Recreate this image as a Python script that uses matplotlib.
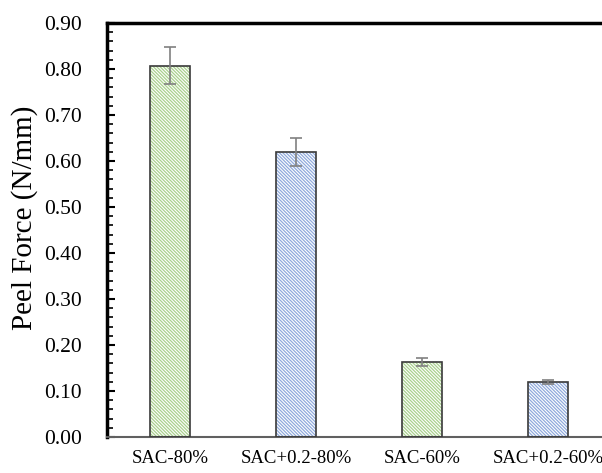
import matplotlib.pyplot as plt
import numpy as np

plt.rcParams['font.family'] = ['Liberation Serif', 'DejaVu Serif']
plt.rcParams['hatch.linewidth'] = 0.9

labels = ['SAC-80%', 'SAC+0.2-80%', 'SAC-60%', 'SAC+0.2-60%']
peel = [0.807, 0.620, 0.163, 0.120]
err = [0.040, 0.031, 0.008, 0.005]
hatch_cols = ['#a9d18e', '#8faadc', '#a9d18e', '#8faadc']

fig = plt.figure(figsize=(6.02, 4.73), dpi=100)
ax = fig.add_axes([107/602, 36/473, 1 - 107/602, (437-23)/473])

x = np.arange(len(labels))
w = 0.32
# hatched fill, then outline on top
for i in range(len(x)):
    ax.bar(x[i], peel[i], width=w, color='white', edgecolor=hatch_cols[i],
           hatch='\\' * 10, linewidth=0, zorder=2)
ax.bar(x, peel, width=w, color='none', edgecolor='#3a3a3a', linewidth=1.2, zorder=3)
ax.errorbar(x, peel, yerr=err, fmt='none', ecolor='#808080', elinewidth=1.2,
            capsize=4, capthick=1.2, zorder=4)

ax.set_xlim(-0.5, 3.43)
ax.set_ylim(0, 0.90)
ax.set_yticks(np.arange(0, 0.91, 0.1))
ax.set_yticks(np.arange(0, 0.901, 0.02), minor=True)
ax.set_yticklabels(['%.2f' % v for v in np.arange(0, 0.91, 0.1)], fontsize=15.5)
ax.set_xticks(x)
ax.set_xticklabels(labels, fontsize=13.5)
ax.tick_params(axis='x', length=0, pad=9)
ax.tick_params(axis='y', which='major', direction='in', length=6, width=1.5, pad=18)
ax.tick_params(axis='y', which='minor', direction='in', length=4, width=1.2)
ax.set_ylabel('Peel Force (N/mm)', fontsize=21)
ax.yaxis.set_label_coords(-0.14, 0.53)

ax.spines['right'].set_visible(False)
ax.spines['top'].set_linewidth(2.5)
ax.spines['left'].set_linewidth(2.5)
ax.spines['bottom'].set_color('#606060')
ax.spines['bottom'].set_linewidth(1.5)

plt.savefig('out.png', dpi=100)
